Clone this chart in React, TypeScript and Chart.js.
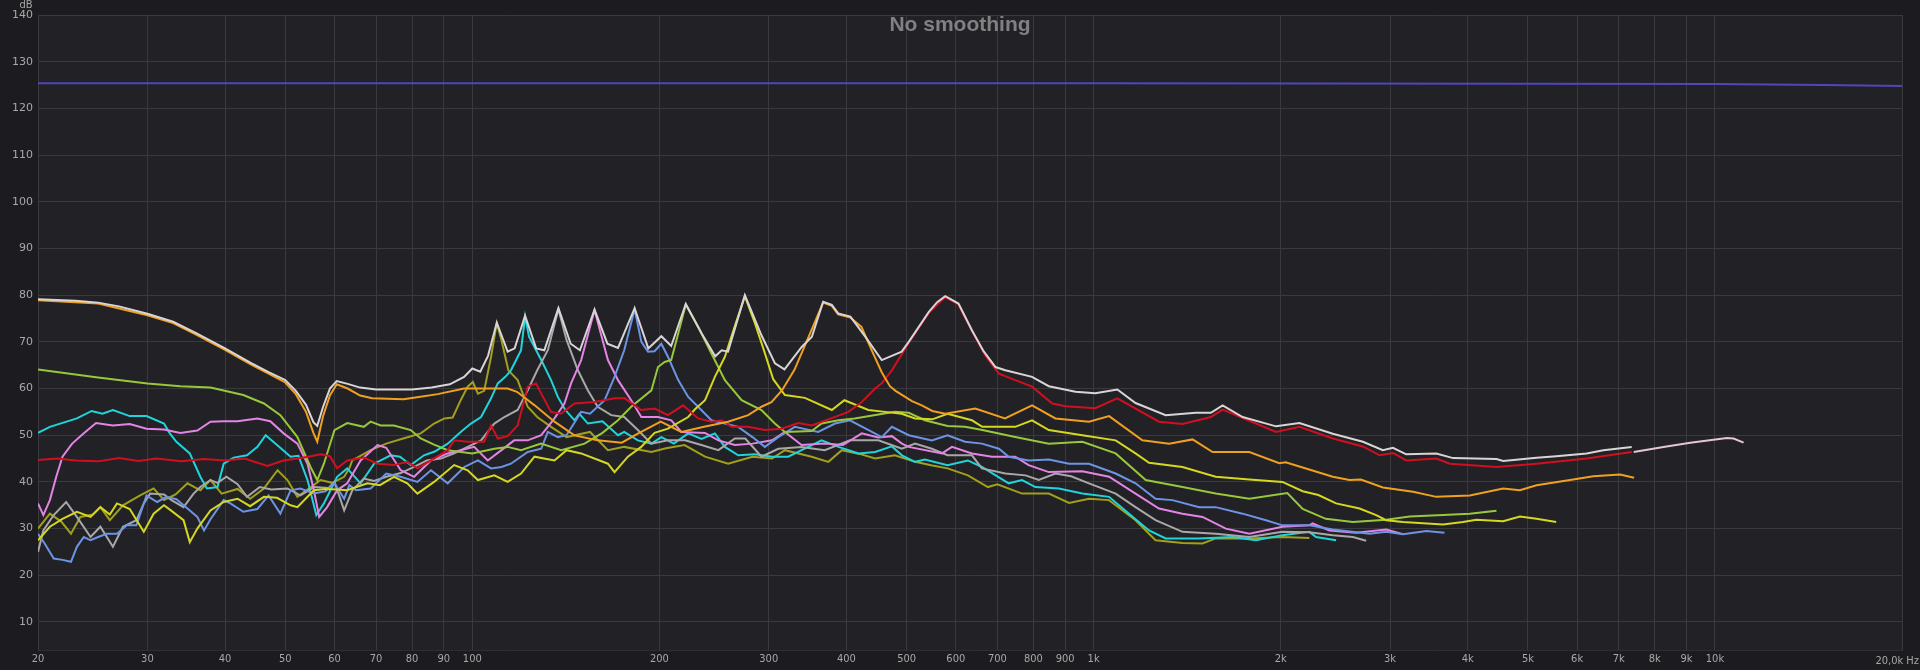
import { useEffect, useRef } from 'react'
import Chart from 'chart.js/auto'

type Pt = [number, number]

// axis ticks
const xTicks = [20, 30, 40, 50, 60, 70, 80, 90, 100, 200, 300, 400, 500, 600, 700, 800, 900, 1000, 2000, 3000, 4000, 5000, 6000, 7000, 8000, 9000, 10000, 20000]
const xLabels = ['20', '30', '40', '50', '60', '70', '80', '90', '100', '200', '300', '400', '500', '600', '700', '800', '900', '1k', '2k', '3k', '4k', '5k', '6k', '7k', '8k', '9k', '10k', '']
const yTicks = [10, 20, 30, 40, 50, 60, 70, 80, 90, 100, 110, 120, 130, 140]

// series: [Hz, dB]
const flatRef: Pt[] = [[20, 125.4], [1000, 125.4], [5000, 125.3], [10000, 125.2], [15000, 125.0], [20000, 124.8]]

const white: Pt[] = [[20, 79.1], [23, 78.8], [25, 78.4], [27, 77.6], [30, 76], [33, 74.3], [36, 71.8], [40, 68.6], [44, 65.5], [47, 63.5], [50, 61.8], [52, 59.5], [54, 56.5], [55.5, 52.8], [56.3, 52], [57.5, 56], [59, 60], [60.5, 61.6], [63, 61], [66, 60.2], [70, 59.8], [80, 59.8], [86, 60.2], [92, 60.9], [97, 62.5], [100, 64.3], [103, 63.6], [106, 67], [109.5, 74.1], [114, 67.9], [117, 68.6], [121.6, 75.6], [126.7, 68.6], [130.6, 68.2], [137.6, 77.2], [144, 69.6], [149, 68.2], [157.3, 76.9], [165, 69.6], [171.6, 68.7], [182.5, 77.2], [192, 68.6], [201.5, 71.2], [209, 69.1], [220.6, 78.1], [234, 71.8], [246, 66.9], [252, 68.2], [258, 67.9], [274.6, 80], [292, 71.4], [307, 65.4], [318, 64.1], [339, 68.9], [352, 71.1], [367, 78.6], [379, 77.9], [388, 76.1], [406, 75.4], [429, 71.1], [456, 66.1], [491, 67.9], [504, 70], [543, 76.4], [560, 78.5], [577, 79.8], [606, 78.2], [637, 72.5], [665, 68], [695, 64.6], [721, 63.9], [796, 62.5], [847, 60.5], [935, 59.3], [1006, 59], [1092, 59.8], [1168, 56.9], [1306, 54.3], [1460, 54.8], [1544, 54.8], [1613, 56.4], [1737, 53.9], [1966, 51.9], [2144, 52.6], [2426, 50.3], [2713, 48.6], [2921, 46.8], [3032, 47.3], [3185, 45.9], [3561, 46.1], [3789, 45.1], [4450, 44.9], [4562, 44.5], [5163, 45.2], [5553, 45.5], [6216, 46.1], [6613, 46.8], [7345, 47.5]]

const whiteTail: Pt[] = [[7400, 46.4], [8263, 47.5], [9127, 48.4], [10454, 49.4], [10716, 49.3], [11120, 48.4]]

const red: Pt[] = [[20, 44.7], [21.5, 45], [23, 44.6], [25, 44.4], [27, 45.1], [29, 44.5], [31, 45], [34, 44.4], [37, 44.9], [40, 44.6], [43, 45], [46.8, 43.4], [49.7, 44.6], [52.3, 45], [55, 45.5], [57, 45.9], [59, 45.5], [60.6, 42.9], [62.9, 44.6], [66.9, 45.2], [70.4, 43.9], [74.8, 43.6], [78.6, 44.3], [81.6, 42.9], [85.8, 44.6], [91.3, 46.8], [93.5, 48.9], [98.3, 48.6], [104.5, 48.6], [107.2, 52.1], [109.9, 49.3], [114, 49.8], [118.3, 52.1], [122.8, 60.4], [126.7, 61.1], [129.1, 58.9], [133.9, 55], [138.9, 54.6], [146, 56.8], [157.3, 57.1], [169.4, 57.9], [176, 57.9], [182.5, 56.4], [187, 55.4], [196.5, 55.7], [206.5, 54.3], [218.4, 56.4], [230.9, 53.6], [242.6, 52.9], [252, 53.2], [261.3, 51.8], [278, 51.8], [295.7, 51.1], [314.6, 51.4], [334.7, 52.6], [351.7, 52.1], [374.2, 53.4], [403.1, 55], [423.5, 57.1], [445, 60], [456, 61.1], [473.5, 63.9], [504, 69.8], [543, 76.2], [577, 79.6], [606, 78], [637, 72.3], [670, 67], [704, 63.2], [748, 61.8], [796, 60.4], [858, 56.8], [900, 56.2], [1006, 55.8], [1092, 57.9], [1274, 52.9], [1390, 52.4], [1544, 53.9], [1613, 55.5], [1966, 50.7], [2144, 51.8], [2426, 49.3], [2713, 47.6], [2886, 45.7], [3032, 46.2], [3185, 44.6], [3561, 45], [3743, 43.9], [4450, 43.2], [5163, 43.9], [6216, 45], [7345, 46.4]]

const orange: Pt[] = [[20, 78.9], [25, 78.2], [30, 75.7], [33, 74], [36, 71.5], [40, 68.3], [44, 65.2], [47, 63.2], [50, 61.3], [52, 58.8], [54, 55], [55.5, 50.5], [56.3, 48.6], [57.5, 54], [59, 58.5], [60.5, 60.9], [63, 60], [66, 58.5], [69, 57.9], [73, 57.8], [77.5, 57.7], [82, 58.2], [88, 58.8], [97, 60], [105, 60], [114, 60], [118, 59.3], [126, 56.4], [135.6, 52.9], [146, 50], [159, 48.9], [174, 48.4], [185, 50.4], [201, 52.9], [217, 50.7], [236, 51.8], [258, 52.9], [278, 54.3], [292, 56.1], [303, 57.1], [315, 59.6], [330, 64], [345, 70], [358, 75], [367, 78.4], [379, 77.7], [388, 75.9], [406, 75.2], [423, 73.2], [440, 68], [456, 63.5], [470, 60.5], [480, 59.5], [510, 57.3], [529, 56.4], [550, 55.2], [577, 54.6], [645, 55.7], [720, 53.6], [796, 56.4], [868, 53.6], [983, 52.9], [1059, 54.1], [1198, 48.9], [1323, 48.2], [1443, 49.1], [1554, 46.4], [1781, 46.4], [1990, 44], [2037, 44.2], [2170, 43.1], [2426, 41.1], [2581, 40.4], [2692, 40.5], [2921, 38.8], [3266, 37.9], [3561, 36.8], [4030, 37.1], [4562, 38.6], [4853, 38.2], [5163, 39.3], [5844, 40.4], [6372, 41.2], [7036, 41.6], [7411, 40.9]]

const lime: Pt[] = [[20, 64.1], [24.8, 62.4], [30, 61.1], [33.9, 60.5], [37.9, 60.2], [42.8, 58.6], [46.2, 56.8], [49.1, 54.3], [52.3, 49.6], [54.9, 43.2], [56.3, 40.4], [57.7, 43.9], [60, 51.1], [62.9, 52.6], [66.9, 51.8], [68.6, 52.9], [71.2, 52.1], [74.8, 52.1], [79.6, 51.1], [82.6, 49.3], [86.8, 48], [91.3, 46.8], [100, 46.1], [108.5, 47.1], [114, 47.5], [119.8, 46.8], [129, 48.2], [139, 46.8], [151.6, 48.2], [162, 50.5], [171.6, 53.2], [180.2, 56.1], [194.2, 59.6], [199, 64.6], [204, 65.7], [209, 66.1], [214.5, 71.8], [220.6, 78], [230.9, 73.2], [242.6, 67.5], [255, 61.8], [271.3, 57.5], [292, 55.4], [306.9, 52.5], [318.5, 50.7], [351.7, 50.9], [364.9, 52.5], [388.5, 53.2], [412.5, 53.6], [478.6, 55], [504, 54.8], [535, 53.2], [582, 52], [621, 51.8], [662, 51.1], [748, 49.6], [847, 48.2], [959, 48.6], [1085, 46.1], [1213, 40.4], [1390, 38.9], [1572, 37.5], [1781, 36.4], [2050, 37.6], [2170, 34.2], [2364, 32.1], [2613, 31.4], [2957, 31.9], [3225, 32.6], [3651, 32.9], [4030, 33.2], [4450, 33.8]]

const yellow: Pt[] = [[20, 27.5], [20.9, 30.4], [21.9, 32.1], [23.1, 33.6], [24.3, 32.5], [25.2, 34.6], [26.1, 33], [26.8, 35.4], [28.1, 34.2], [29.6, 29.3], [30.7, 33.2], [31.9, 35], [32.8, 33.8], [34.3, 31.8], [35.1, 27.1], [36.1, 30], [37.9, 33.9], [39.8, 35.7], [41.9, 36.4], [43.9, 34.8], [46.2, 36.8], [48.5, 36.6], [51, 35], [52.3, 34.6], [55.6, 38.2], [58, 38.5], [60.6, 38.4], [62.9, 38.2], [67.8, 39.7], [71, 39.3], [74.8, 41.1], [78.6, 39.7], [81.6, 37.5], [86.8, 40], [93.5, 43.6], [98.3, 42.5], [102.1, 40.4], [108.5, 41.4], [114, 40], [119.8, 41.8], [125.9, 45.4], [135.6, 44.6], [141.8, 46.8], [149.7, 46.1], [165.3, 43.9], [169.4, 42.1], [178, 45.4], [187, 47.5], [196.5, 50.5], [206.5, 51.4], [222.6, 53.9], [228, 55.5], [236.9, 57.5], [245.7, 62.5], [255, 66.8], [264, 73], [274.6, 79.8], [285, 74], [295, 68], [305, 62], [318.5, 58.6], [343, 58], [379, 55.4], [397, 57.5], [434, 55.4], [462, 55], [491, 54.6], [516, 53.6], [550, 53.4], [582, 54.6], [637, 53.2], [662, 51.8], [748, 51.8], [796, 53.2], [847, 51.1], [959, 50], [1085, 48.9], [1168, 46.1], [1228, 44.1], [1390, 43.2], [1572, 41.1], [1781, 40.5], [2013, 40], [2170, 38], [2300, 37.2], [2456, 35.4], [2679, 34.3], [2849, 32.9], [2957, 31.8], [3147, 31.4], [3651, 30.9], [3930, 31.4], [4131, 31.9], [4562, 31.6], [4853, 32.6], [5163, 32.1], [5553, 31.4]]

const cyan: Pt[] = [[20, 50.5], [20.9, 51.8], [23.1, 53.6], [24.4, 55.2], [25.4, 54.6], [26.4, 55.4], [28.1, 54.1], [29.9, 54.1], [31.9, 52.5], [32.6, 50.4], [33.4, 48.6], [35.1, 46.1], [36.5, 41.1], [37.4, 38.6], [38.9, 38.9], [39.8, 43.9], [41.3, 45.2], [43.4, 45.7], [45.1, 47.5], [46.5, 50], [48.5, 47.9], [51, 45.4], [52.5, 45.6], [54.3, 40.4], [56.1, 32.9], [57.7, 35.4], [60.6, 41.1], [62.9, 42.9], [66.1, 39.7], [69.5, 43.9], [73.9, 45.7], [76.5, 45.4], [79.6, 43.6], [83.6, 45.7], [87, 46.5], [91.3, 48.2], [95.8, 50.7], [99.5, 52.5], [103.3, 53.9], [107.2, 57.9], [109.9, 61.1], [113, 62.5], [115.4, 63.9], [119.8, 68.2], [121.6, 75.4], [123.4, 71.1], [129.1, 66.1], [133.9, 61.8], [137.3, 58.2], [141, 55.5], [146, 53.2], [148.7, 54.6], [153.5, 52.5], [162, 53], [171.6, 50], [175.6, 50.7], [184.7, 48.9], [194.2, 48.2], [201.5, 49.6], [211, 48.2], [222.6, 50.4], [233.8, 49.2], [245.7, 50.4], [255, 47.5], [267.9, 45.7], [285, 45.9], [303.7, 45.4], [322.5, 45.4], [338.8, 46.8], [364.9, 48.9], [388.5, 47.5], [418.4, 46.1], [445, 46.4], [473.5, 47.6], [491.4, 45.7], [516, 44.3], [535, 44.8], [582, 43.6], [627.5, 44.6], [661, 43.2], [730, 39.7], [767, 40.4], [806, 38.9], [879, 38.6], [959, 37.5], [1059, 36.8], [1140, 33.2], [1228, 29.6], [1306, 27.9], [1479, 27.9], [1674, 28.2], [1825, 27.5], [2013, 28.6], [2224, 29.3], [2280, 28.2], [2456, 27.5]]

const pink: Pt[] = [[20, 35.4], [20.4, 32.9], [20.9, 36.1], [21.4, 41.1], [21.9, 45.4], [22.7, 48.2], [23.7, 50.4], [24.8, 52.6], [26.4, 52.1], [28.1, 52.4], [29.9, 51.4], [31.9, 51.2], [33.9, 50.5], [36.1, 51], [37.9, 52.9], [39.8, 53], [41.9, 53], [45.1, 53.6], [47.3, 53], [49.7, 50.4], [52.3, 48.2], [54.3, 43.9], [55.6, 38.2], [56.7, 32.5], [58.4, 34.6], [60.6, 38.2], [62.9, 39.7], [66.1, 44.6], [70.4, 47.9], [72.7, 47.3], [76.7, 42.5], [80.6, 41.1], [85.8, 44.6], [91.3, 46.1], [95.8, 46.8], [100.7, 47.5], [105.9, 44.6], [111.4, 46.8], [116.8, 48.9], [122.8, 48.9], [129.1, 50], [135.6, 53.6], [140.7, 56.8], [144.2, 61.1], [149.7, 66.1], [157.3, 76.8], [165.3, 66.1], [171.6, 61.8], [180.2, 57.5], [187.1, 53.9], [199, 53.9], [209.1, 53.2], [217, 50.7], [236.9, 50.5], [248.9, 48.9], [264.6, 47.9], [282.4, 48.2], [303.7, 48.9], [318.5, 50.7], [338.8, 47.9], [369.1, 48.2], [395, 47.9], [423.5, 50.4], [450, 49.5], [473.5, 49.8], [491.4, 48.2], [504, 47.5], [570, 46.1], [591.5, 47.5], [637, 46.1], [686.4, 45.4], [748, 45.4], [786, 43.6], [847, 42.1], [959, 42.3], [1059, 41.1], [1168, 37.5], [1274, 34.3], [1390, 33.2], [1497, 32.5], [1632, 30], [1781, 28.9], [2013, 30.4], [2224, 30.7], [2251, 31.1], [2396, 29.6], [2646, 29.1], [2957, 29.8], [3147, 28.8]]

const gray: Pt[] = [[20, 25], [20.4, 29.6], [21.2, 32.9], [22.2, 35.7], [23.1, 32.5], [24.3, 28.2], [25.2, 30.4], [26.4, 26.1], [27.4, 30.4], [28.8, 31.8], [29.6, 35.4], [30.3, 37.5], [31.9, 37.3], [32.8, 36.1], [34.3, 34.6], [35.6, 37.5], [36.5, 38.9], [37.9, 40.4], [38.9, 39.8], [40.2, 41.1], [41.9, 39.5], [43.4, 36.8], [45.5, 38.9], [47.5, 38.4], [50.4, 38.6], [52.9, 37.1], [55.6, 38.9], [58.7, 38.7], [60, 40], [62.2, 33.9], [64.1, 38.2], [66.9, 40.7], [69.5, 40.2], [72.7, 41.1], [76.7, 41.9], [80.6, 43.2], [84.5, 44.6], [89, 45], [93.5, 46.1], [98.3, 47.5], [103.3, 48.9], [108.5, 52.5], [112.6, 53.9], [118.3, 55.4], [122.8, 59.6], [127.2, 63.9], [132.3, 68.2], [137.6, 77], [141.8, 70.4], [147.9, 63.9], [153.5, 59.6], [159.2, 56.1], [167.3, 54.3], [175.6, 53.9], [184.7, 51.1], [194.2, 48.2], [206.5, 48.9], [220, 48.9], [233.8, 47.9], [248.9, 46.8], [264.6, 49.3], [275, 49.3], [292.1, 45.4], [310.8, 47.1], [338.8, 47.5], [369.1, 46.8], [405.3, 48.9], [450.3, 48.9], [491.4, 47.1], [516, 48.2], [549, 47.1], [582, 45.7], [637, 45.7], [661, 42.9], [721, 41.8], [777, 41.4], [816, 40.4], [868, 41.8], [920, 41.2], [983, 39.7], [1085, 37.5], [1168, 34.6], [1258, 31.8], [1390, 29.3], [1572, 28.9], [1781, 28.2], [2013, 29.3], [2224, 29.2], [2426, 28.6], [2613, 28.2], [2746, 27.4]]

const blue: Pt[] = [[20, 28.9], [20.5, 26.8], [21.2, 23.6], [21.9, 23.3], [22.6, 22.9], [23.1, 26.1], [23.7, 28.2], [24.3, 27.5], [25, 28.2], [25.8, 28.9], [26.8, 28.9], [27.8, 30.7], [28.8, 30.7], [29.9, 37.1], [31.1, 35.7], [32.2, 36.8], [33.4, 36.3], [34.8, 34.3], [36.1, 32.5], [37, 29.6], [37.9, 32], [39.8, 36.1], [40.8, 35.4], [42.8, 33.6], [45.1, 34.2], [47, 37.1], [49.1, 33.2], [51, 38.2], [52.9, 38.6], [55.6, 37.5], [58, 38], [60, 39.7], [62.2, 36.4], [63.4, 39.3], [65, 38.2], [68.6, 38.6], [72.7, 41.8], [76.7, 41.1], [81.6, 40], [85.8, 42.5], [91.3, 39.7], [97.1, 43.2], [102.1, 44.6], [107.2, 42.9], [111.4, 43.2], [115.4, 43.9], [122.8, 46.4], [129.1, 47.1], [132.3, 50.7], [137.3, 49.6], [141.8, 50], [149.7, 55], [154.7, 54.6], [163.3, 57.5], [169.4, 62.5], [175.6, 68.2], [182.5, 77], [187.1, 70], [191.8, 67.9], [196.5, 68], [201.5, 69.6], [206.5, 66.8], [214.5, 61.8], [222.6, 58.2], [230.9, 56.1], [242.6, 53.2], [255, 52.5], [267.9, 51.8], [282.4, 49.6], [295.7, 47.5], [310.8, 49.6], [330.5, 51.8], [360.4, 50.7], [383.5, 52.5], [405.3, 53.2], [434.3, 51.1], [456, 49.6], [473.5, 51.8], [504, 50], [549, 48.9], [582, 50], [621, 48.6], [661, 48.2], [704, 47.1], [730, 45.4], [786, 44.6], [847, 44.8], [913, 43.9], [983, 43.9], [1085, 41.8], [1168, 39.7], [1258, 36.4], [1339, 36.1], [1479, 34.6], [1572, 34.6], [1737, 33.2], [1894, 31.8], [2013, 30.7], [2224, 30.7], [2426, 29.8], [2780, 28.9], [2957, 29.3], [3147, 28.8], [3433, 29.5], [3670, 29.1]]

const olive: Pt[] = [[20, 30], [20.9, 33.2], [21.8, 31.5], [22.6, 28.9], [23.4, 32.5], [24.5, 33], [25.2, 34.6], [26.1, 31.8], [27.4, 35], [29.2, 37.1], [30.7, 38.6], [31.9, 36.1], [33.3, 37.3], [34.8, 39.7], [36.5, 38.2], [37.9, 40.4], [39.5, 37.5], [41.9, 38.5], [43.9, 36.4], [46.2, 38.6], [48.6, 42.5], [50.4, 40.4], [52.3, 36.8], [54.5, 38.5], [57, 40.4], [59.5, 39.8], [62.2, 41.1], [63.4, 42.9], [64.1, 44.6], [68.6, 46.8], [72.7, 48.2], [77.4, 49.3], [82.6, 50.4], [86.8, 52.5], [90.2, 53.6], [93, 53.8], [95.8, 57.5], [98.3, 60.4], [100.2, 61.4], [102.1, 58.9], [104.5, 59.5], [107.2, 66.8], [109.5, 74], [111.4, 70.4], [114.3, 63.9], [118.3, 61.8], [122.8, 56.1], [127.2, 53.9], [133.9, 51.8], [141.8, 49.6], [154.7, 50.7], [165.3, 46.8], [175.6, 47.5], [194.2, 46.4], [205, 47.2], [219.6, 47.9], [236.9, 45.4], [258.1, 43.9], [282.4, 45.4], [303.7, 45], [318.5, 46.8], [351.7, 45.4], [374.2, 44.3], [393.3, 46.8], [420, 46], [445, 45], [478.6, 45.7], [516, 44.3], [550, 43.5], [582, 42.9], [627.5, 41.4], [675.8, 38.9], [700, 39.5], [767, 37.5], [847, 37.5], [913, 35.5], [983, 36.4], [1059, 36.1], [1168, 31.8], [1258, 27.5], [1390, 26.9], [1497, 26.8], [1572, 27.9], [1781, 27.9], [2013, 28.2], [2224, 28]]

const labelFont = "'DejaVu Sans Condensed', 'Liberation Sans Narrow', 'DejaVu Sans', sans-serif"

const decor = {
  id: 'decor',
  beforeDraw(chart: Chart) {
    const { ctx, chartArea: a, width, height } = chart
    ctx.save()
    ctx.fillStyle = '#1c1b1f'
    ctx.fillRect(0, 0, width, height)
    ctx.fillStyle = '#222125'
    ctx.fillRect(a.left, a.top, a.right - a.left, a.bottom - a.top)
    ctx.restore()
  },
  afterDraw(chart: Chart) {
    const { ctx, width } = chart
    ctx.save()
    ctx.fillStyle = '#818183'
    ctx.font = "bold 21px 'Liberation Sans', Arial, sans-serif"
    ctx.textAlign = 'center'
    ctx.textBaseline = 'alphabetic'
    ctx.fillText('No smoothing', width / 2, 31)
    ctx.textBaseline = 'middle'
    ctx.fillStyle = '#a8a8a8'
    ctx.font = `11px ${labelFont}`
    ctx.fillText('dB', 26, 5)
    ctx.textAlign = 'right'
    ctx.fillText('20,0k Hz', width - 1, 661)
    ctx.restore()
  },
}

const series: { data: Pt[]; color: string }[] = [
  { data: white, color: '#d9d4d6' },
  { data: whiteTail, color: '#e6c6cf' },
  { data: orange, color: '#f0a020' },
  { data: red, color: '#d01020' },
  { data: yellow, color: '#d4d820' },
  { data: lime, color: '#98c83a' },
  { data: blue, color: '#6c94e4' },
  { data: pink, color: '#e484e4' },
  { data: gray, color: '#a8a8a8' },
  { data: cyan, color: '#20d4dc' },
  { data: olive, color: '#a0a01c' },
  { data: flatRef, color: '#5046c0' },
]

export default function App() {
  const canvasRef = useRef<HTMLCanvasElement>(null)
  const chartRef = useRef<Chart | null>(null)

  useEffect(() => {
    if (!canvasRef.current) return
    if (chartRef.current) chartRef.current.destroy()

    chartRef.current = new Chart(canvasRef.current, {
      type: 'line',
      data: {
        datasets: series.map((s) => ({
          data: s.data.map(([x, y]) => ({ x, y })),
          borderColor: s.color,
          borderWidth: 2,
          pointRadius: 0,
          tension: 0,
          fill: false,
        })),
      },
      options: {
        animation: false,
        responsive: false,
        devicePixelRatio: 1,
        layout: { padding: { top: 15, right: 18, left: 0, bottom: 0 } },
        plugins: { legend: { display: false }, tooltip: { enabled: false } },
        scales: {
          x: {
            type: 'logarithmic',
            min: 20,
            max: 20000,
            afterBuildTicks: (axis: any) => {
              axis.ticks = xTicks.map((value) => ({ value }))
            },
            afterFit: (axis: any) => {
              axis.height = 20
            },
            ticks: {
              autoSkip: false,
              maxRotation: 0,
              padding: 3,
              color: '#a8a8a8',
              font: { family: labelFont, size: 11 },
              callback: (v: any) => {
                const i = xTicks.indexOf(Number(v))
                return i >= 0 ? xLabels[i] : ''
              },
            },
            grid: { color: '#3a393e', drawTicks: false },
            border: { color: '#2e2d31' },
          },
          y: {
            type: 'linear',
            min: 4,
            max: 140,
            afterBuildTicks: (axis: any) => {
              axis.ticks = yTicks.map((value) => ({ value }))
            },
            afterFit: (axis: any) => {
              axis.width = 38
            },
            ticks: {
              padding: 5,
              color: '#a8a8a8',
              font: { family: "'DejaVu Sans', sans-serif", size: 11 },
            },
            grid: { color: '#3a393e', drawTicks: false },
            border: { color: '#3a393e' },
          },
        },
      },
      plugins: [decor],
    })

    return () => {
      if (chartRef.current) {
        chartRef.current.destroy()
        chartRef.current = null
      }
    }
  }, [])

  return (
    <div style={{ position: 'fixed', left: 0, top: 0, width: 1920, height: 670, background: '#1c1b1f' }}>
      <canvas ref={canvasRef} width={1920} height={670} style={{ display: 'block' }} />
    </div>
  )
}
